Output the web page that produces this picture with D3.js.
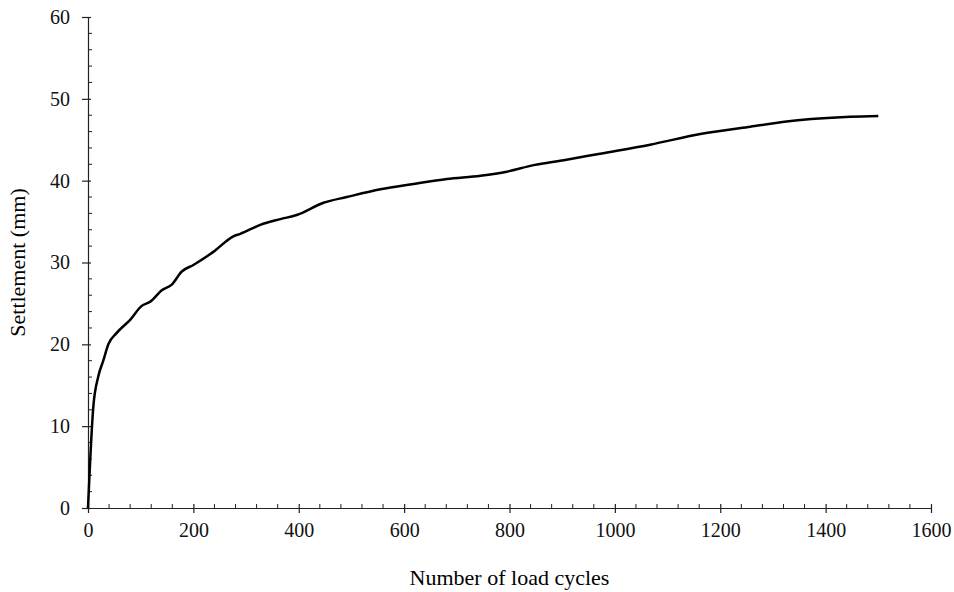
<!DOCTYPE html>
<html>
<head>
<meta charset="utf-8">
<script src="https://cdn.jsdelivr.net/npm/d3@7"></script>
<style>
  body { margin: 0; background: #fff; }
  text { font-family: "Liberation Serif", "Times New Roman", serif; }
</style>
</head>
<body>
<script>
// load cycles and settlement (mm)
const cycles = [0, 10, 19.6, 29, 38.6, 54.5, 80, 102, 118, 140, 159, 178, 200, 238, 276, 289, 327, 365,
  396, 447, 491, 555, 618, 681, 745, 795, 846, 903, 972, 1067, 1162, 1257, 1352, 1447, 1500];
const settlement = [0, 12.3, 16.1, 18, 20, 21.4, 23, 24.7, 25.2, 26.6, 27.3, 28.9, 29.7, 31.3, 33.2, 33.5, 34.6, 35.3,
  35.8, 37.3, 38.0, 38.95, 39.6, 40.2, 40.6, 41.1, 41.9, 42.5, 43.3, 44.4, 45.7, 46.6, 47.4, 47.8, 47.9];
const xTicks = [0, 200, 400, 600, 800, 1000, 1200, 1400, 1600];
const yTicks = [0, 10, 20, 30, 40, 50, 60];

const width = 954, height = 592;
const margin = { left: 88, right: 23, top: 17, bottom: 84 };

const svg = d3.select("body").append("svg")
  .attr("width", width)
  .attr("height", height);

const x = d3.scaleLinear().domain([0, 1600]).range([margin.left, width - margin.right]);
const y = d3.scaleLinear().domain([0, 60]).range([height - margin.bottom, margin.top]);

// minor ticks
const xMinor = d3.range(0, 1601, 40).filter(v => v % 200 !== 0);
const yMinor = d3.range(0, 61, 2).filter(v => v % 10 !== 0);

svg.selectAll(".xminor").data(xMinor).enter().append("line")
  .attr("x1", d => x(d)).attr("x2", d => x(d))
  .attr("y1", y(0)).attr("y2", y(0) - 4)
  .attr("stroke", "#222").attr("stroke-width", 1);

svg.selectAll(".yminor").data(yMinor).enter().append("line")
  .attr("y1", d => y(d)).attr("y2", d => y(d))
  .attr("x1", x(0)).attr("x2", x(0) + 4)
  .attr("stroke", "#222").attr("stroke-width", 1);

// x axis
const xAxis = svg.append("g")
  .attr("transform", `translate(0,${y(0)})`)
  .call(d3.axisBottom(x).tickValues(xTicks).tickFormat(d3.format("d"))
    .tickSize(5).tickSizeOuter(0).tickPadding(10));
xAxis.selectAll(".tick line").attr("y1", -4);

// y axis
const yAxis = svg.append("g")
  .attr("transform", `translate(${x(0)},0)`)
  .call(d3.axisLeft(y).tickValues(yTicks).tickFormat(d3.format("d"))
    .tickSize(6).tickSizeOuter(0).tickPadding(12));
yAxis.selectAll(".tick line").attr("x1", 3);

svg.selectAll(".domain").attr("stroke", "#222").attr("stroke-width", 1.2);
svg.selectAll(".tick line").attr("stroke", "#222").attr("stroke-width", 1.2);
svg.selectAll(".tick text")
  .attr("fill", "#111")
  .style("font-size", "20px");

// axis titles
svg.append("text")
  .attr("x", (x(0) + x(1600)) / 2)
  .attr("y", 585)
  .attr("text-anchor", "middle")
  .style("font-size", "22px")
  .text("Number of load cycles");

svg.append("text")
  .attr("transform", `translate(25,${(y(0) + y(60)) / 2}) rotate(-90)`)
  .attr("text-anchor", "middle")
  .style("font-size", "22px")
  .text("Settlement (mm)");

// the curve
const line = d3.line()
  .x((d, i) => x(cycles[i]))
  .y((d, i) => y(settlement[i]))
  .curve(d3.curveMonotoneX);

svg.append("path")
  .datum(settlement)
  .attr("fill", "none")
  .attr("stroke", "#000")
  .attr("stroke-width", 2.5)
  .attr("d", line);
</script>
</body>
</html>
